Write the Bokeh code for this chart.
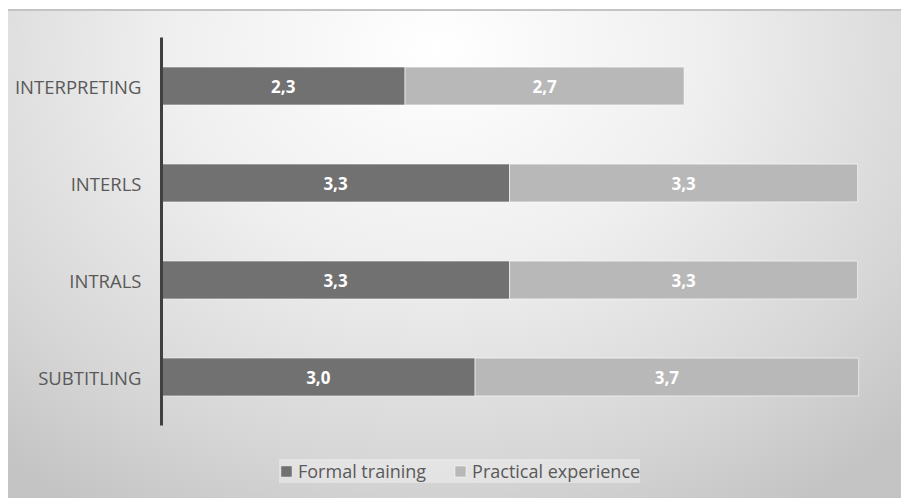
from bokeh.plotting import figure
from bokeh.models import ColumnDataSource, Legend, LegendItem, Range1d, FixedTicker
from bokeh.core.properties import value
from bokeh.embed import file_html
from bokeh.resources import INLINE

categories = ["INTERPRETING", "INTERLS", "INTRALS", "SUBTITLING"]
formal = [2.33, 3.33, 3.33, 3.00]
practical = [2.67, 3.33, 3.33, 3.67]
series_names = ["Formal training", "Practical experience"]
colors = ["#717171", "#b8b8b8"]


def fmt(v):
    return f"{v:.1f}".replace(".", ",")


n = len(categories)
ypos = [n - 1 - i for i in range(n)]  # first category at the top

src = ColumnDataSource(dict(
    cat=categories,
    y=ypos,
    zero=[0] * n,
    f_end=formal,
    p_end=[f + q for f, q in zip(formal, practical)],
    f_mid=[f / 2 for f in formal],
    p_mid=[f + q / 2 for f, q in zip(formal, practical)],
    f_lab=[fmt(v) for v in formal],
    p_lab=[fmt(v) for v in practical],
))

# layout: frame from y=37px (top) to 498px (bottom); category band 97px
band_px = 97.0
frame_h = 498 - 37
y_top = n - 0.5
y_bottom = y_top - frame_h / band_px

p = figure(width=901, height=498,
           y_range=Range1d(y_bottom, y_top),
           x_range=Range1d(0, 7.08),
           x_axis_location=None,
           output_backend="svg", toolbar_location=None,
           min_border_left=161, min_border_right=0,
           min_border_top=37, min_border_bottom=0)

p.background_fill_alpha = 0
p.border_fill_alpha = 0
p.outline_line_color = None
p.xgrid.visible = False
p.ygrid.visible = False
p.styles = {
    "background": "linear-gradient(#c4c4c4, #c4c4c4) 8px 9px / 893px 2px no-repeat, "
                  "radial-gradient(ellipse 75% 110% at 48% 8%, #ffffff 0%, #efefef 40%, #d6d6d6 78%, #c4c4c4 100%) 8px 10px / 893px 488px no-repeat, "
                  "#ffffff"
}

r1 = p.hbar(y="y", left="zero", right="f_end", height=0.39, source=src,
            fill_color=colors[0], line_color="white", line_alpha=0.5, line_width=1)
r2 = p.hbar(y="y", left="f_end", right="p_end", height=0.39, source=src,
            fill_color=colors[1], line_color="white", line_alpha=0.6, line_width=1)

for xcol, tcol in (("f_mid", "f_lab"), ("p_mid", "p_lab")):
    p.text(x=xcol, y="y", text=tcol, source=src, text_align="center",
           text_baseline="middle", text_color="white", text_font=value("Open Sans"),
           text_font_style="bold", text_font_size="17px")

ax = p.yaxis[0]
ax.ticker = FixedTicker(ticks=ypos)
ax.major_label_overrides = {y: c for y, c in zip(ypos, categories)}
ax.bounds = (-0.5, n - 0.5)
ax.axis_line_color = "#404040"
ax.axis_line_width = 3
ax.major_tick_line_color = None
ax.minor_tick_line_color = None
ax.major_label_standoff = 14
ax.major_label_text_font = "Open Sans"
ax.major_label_text_font_size = "18.5px"
ax.major_label_text_color = "#595959"

legend = Legend(items=[LegendItem(label=series_names[0], renderers=[r1]),
                       LegendItem(label=series_names[1], renderers=[r2])],
                orientation="horizontal", location=(118, 15),
                glyph_width=14, glyph_height=14, label_standoff=5, spacing=27,
                padding=14, margin=0,
                label_text_font="Open Sans", label_text_font_size="18px",
                label_text_color="#595959",
                background_fill_color="#ffffff", background_fill_alpha=0.35,
                border_line_color=None)
p.add_layout(legend)

open("out.html", "w").write(file_html(p, INLINE))
